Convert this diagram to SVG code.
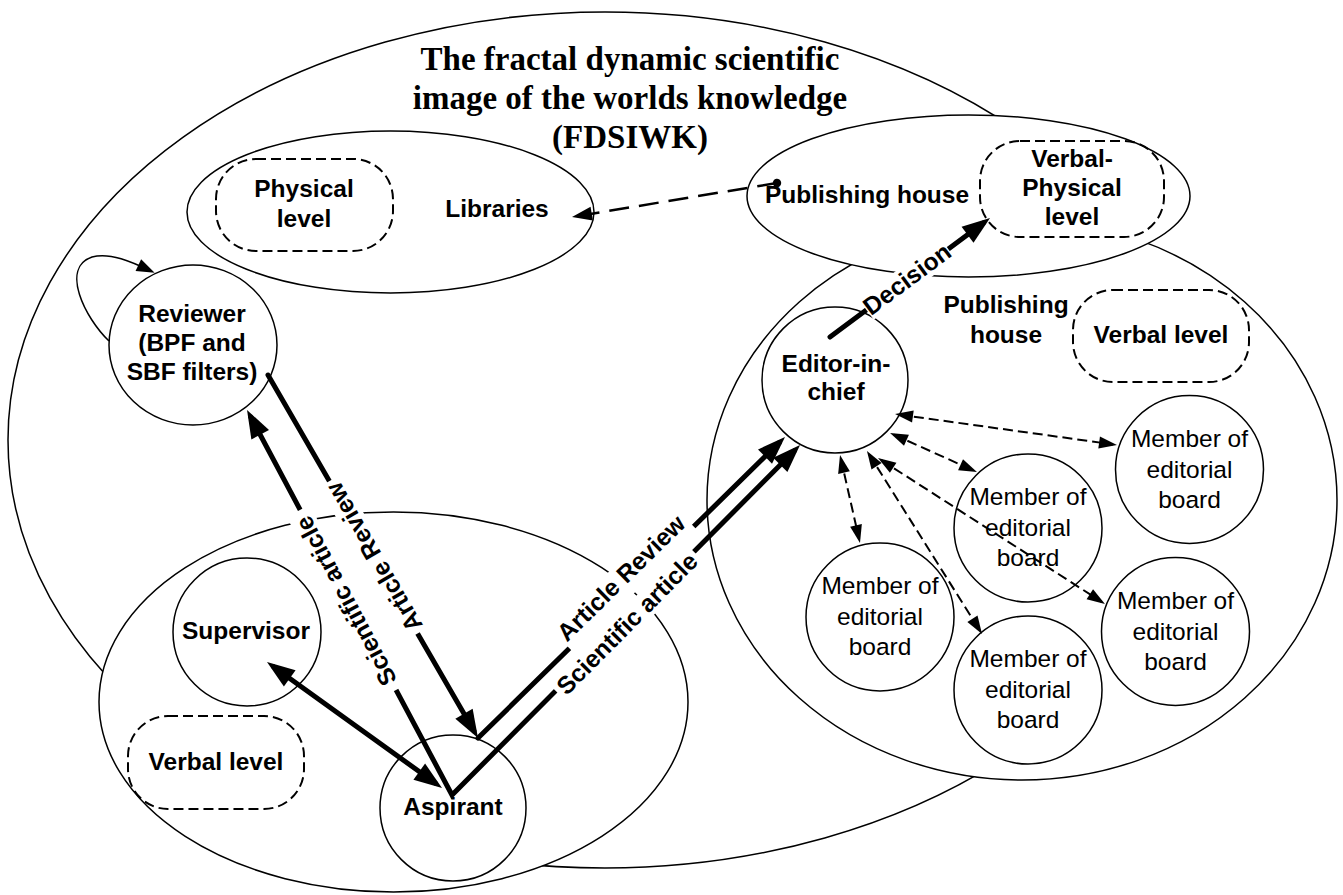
<svg xmlns="http://www.w3.org/2000/svg" width="1343" height="895" viewBox="0 0 1343 895">
<style>
.e{fill:#fff;stroke:#000;stroke-width:1.5}
.d{fill:none;stroke:#000;stroke-width:2;stroke-dasharray:10 5}
.b{font-family:"Liberation Sans",Arial,sans-serif;font-weight:bold;font-size:24.5px;text-anchor:middle;fill:#000}
.r{font-family:"Liberation Sans",Arial,sans-serif;font-size:24.5px;text-anchor:middle;fill:#000}
.t{font-family:"Liberation Serif","Times New Roman",serif;font-weight:bold;font-size:33px;text-anchor:middle;fill:#000}
.thick{fill:none;stroke:#000;stroke-width:5;stroke-linecap:round;stroke-linejoin:miter;stroke-miterlimit:10}
.dash{fill:none;stroke:#000;stroke-width:2;stroke-dasharray:10 5}
.ldash{fill:none;stroke:#000;stroke-width:2.5;stroke-dasharray:20 10}
.thin{fill:none;stroke:#000;stroke-width:1.5}
.bg{fill:#fff;stroke:none}
</style>
<defs>
<marker id="ab" markerUnits="userSpaceOnUse" markerWidth="28" markerHeight="20" refX="20" refY="10" orient="auto-start-reverse" overflow="visible"><path d="M0,0 L28,10 L0,20 z" fill="#000" stroke="none"/></marker>
<marker id="as" markerUnits="userSpaceOnUse" markerWidth="18" markerHeight="12" refX="14" refY="6" orient="auto-start-reverse" overflow="visible"><path d="M0,0 L18,6 L0,12 z" fill="#000" stroke="none"/></marker>
<marker id="am" markerUnits="userSpaceOnUse" markerWidth="20" markerHeight="14" refX="14" refY="7" orient="auto" overflow="visible"><path d="M0,0 L20,7 L0,14 z" fill="#000" stroke="none"/></marker>
<marker id="al" markerUnits="userSpaceOnUse" markerWidth="18" markerHeight="13" refX="14" refY="6.5" orient="auto" overflow="visible"><path d="M0,0 L18,6.5 L0,13 z" fill="#000" stroke="none"/></marker>
<marker id="dot" markerUnits="userSpaceOnUse" markerWidth="10" markerHeight="10" refX="5" refY="5" orient="auto" overflow="visible"><circle cx="5" cy="5" r="4.2" fill="#000"/></marker>
</defs>

<g id="fdsiwk">
<ellipse class="e" cx="605" cy="440" rx="597" ry="428"/>
<text class="t" x="630" y="70">The fractal dynamic scientific</text>
<text class="t" x="630" y="109">image of the worlds knowledge</text>
<text class="t" x="630" y="148">(FDSIWK)</text>
</g>

<g id="libraries">
<ellipse class="e" cx="390.5" cy="212" rx="203.5" ry="81"/>
<text class="b" x="497" y="217">Libraries</text>
</g>
<g id="physical-level">
<rect class="d" x="216" y="159" width="177" height="92" rx="40" ry="40"/>
<text class="b" x="304" y="197">Physical</text>
<text class="b" x="304" y="227">level</text>
</g>

<g id="scientist-group">
<ellipse class="e" cx="393.5" cy="702" rx="294.5" ry="190"/>
</g>
<g id="verbal-level-left">
<rect class="d" x="128" y="716" width="176" height="93" rx="40" ry="40"/>
<text class="b" x="216" y="770">Verbal level</text>
</g>

<g id="publishing-house-editorial">
<ellipse class="e" cx="1022" cy="500" rx="315" ry="280"/>
<text class="b" x="1006" y="313">Publishing</text>
<text class="b" x="1006" y="343">house</text>
</g>
<g id="verbal-level-right">
<rect class="d" x="1073" y="290" width="176" height="92" rx="40" ry="40"/>
<text class="b" x="1161" y="343">Verbal level</text>
</g>

<g id="publishing-house">
<ellipse class="e" cx="968.5" cy="196" rx="221.5" ry="81"/>
<text class="b" x="867" y="203">Publishing house</text>
</g>
<g id="verbal-physical-level">
<rect class="d" x="980" y="141" width="184" height="96" rx="40" ry="40"/>
<text class="b" x="1072" y="167">Verbal-</text>
<text class="b" x="1072" y="196">Physical</text>
<text class="b" x="1072" y="225">level</text>
</g>

<g id="reviewer">
<ellipse class="e" cx="193" cy="345" rx="84" ry="80"/>
<text class="b" x="192" y="322">Reviewer</text>
<text class="b" x="192" y="351">(BPF and</text>
<text class="b" x="192" y="380">SBF filters)</text>
</g>

<g id="supervisor">
<circle class="e" cx="247" cy="632" r="74"/>
<text class="b" x="246" y="639">Supervisor</text>
</g>

<g id="aspirant">
<circle class="e" cx="453" cy="808" r="73"/>
<text class="b" x="453" y="815">Aspirant</text>
</g>

<g id="editor-in-chief">
<circle class="e" cx="835" cy="380" r="73"/>
<text class="b" x="836" y="372">Editor-in-</text>
<text class="b" x="836" y="400">chief</text>
</g>

<g id="member-1">
<circle class="e" cx="880" cy="617" r="74"/>
<text class="r" x="880" y="594"><tspan x="880">Member of</tspan><tspan x="880" dy="30.5">editorial</tspan><tspan x="880" dy="30.5">board</tspan></text>
</g>
<g id="member-2">
<circle class="e" cx="1028" cy="528" r="74"/>
<text class="r" x="1028" y="505"><tspan x="1028">Member of</tspan><tspan x="1028" dy="30.5">editorial</tspan><tspan x="1028" dy="30.5">board</tspan></text>
</g>
<g id="member-3">
<circle class="e" cx="1028" cy="690" r="74"/>
<text class="r" x="1028" y="667"><tspan x="1028">Member of</tspan><tspan x="1028" dy="30.5">editorial</tspan><tspan x="1028" dy="30.5">board</tspan></text>
</g>
<g id="member-4">
<circle class="e" cx="1175.5" cy="631.5" r="74"/>
<text class="r" x="1175.5" y="609"><tspan x="1175.5">Member of</tspan><tspan x="1175.5" dy="30.5">editorial</tspan><tspan x="1175.5" dy="30.5">board</tspan></text>
</g>
<g id="member-5">
<circle class="e" cx="1189.5" cy="469.5" r="74"/>
<text class="r" x="1189.5" y="447"><tspan x="1189.5">Member of</tspan><tspan x="1189.5" dy="30.5">editorial</tspan><tspan x="1189.5" dy="30.5">board</tspan></text>
</g>

<g id="connectors">
<path class="thin" d="M109,341 C85,318 60,268 92,257 C110,252 132,262 151,271" marker-end="url(#al)"/>
<path class="ldash" d="M777,183 L577.9,216" marker-start="url(#dot)" marker-end="url(#am)"/>
<path class="thick" d="M250.8,417.1 L452,795 L794.4,450.7" marker-start="url(#ab)" marker-end="url(#ab)"/>
<path class="thick" d="M268,375 L474,731.1" marker-end="url(#ab)"/>
<path class="thick" d="M478,738 L779.3,442.6" marker-end="url(#ab)"/>
<path class="thick" d="M273.5,666.7 L435.5,783.3" marker-start="url(#ab)" marker-end="url(#ab)"/>
<path class="thick" d="M830,337 L983.6,222.8" marker-end="url(#ab)"/>
<path class="dash" d="M899,414.6 L1113,444.4" marker-start="url(#as)" marker-end="url(#as)"/>
<path class="dash" d="M893.7,434.6 L973.3,470.4" marker-start="url(#as)" marker-end="url(#as)"/>
<path class="dash" d="M881.4,460.2 L1101.6,601.8" marker-start="url(#as)" marker-end="url(#as)"/>
<path class="dash" d="M869.1,454.4 L979.9,630.6" marker-start="url(#as)" marker-end="url(#as)"/>
<path class="dash" d="M840.9,458.9 L859.1,539.1" marker-start="url(#as)" marker-end="url(#as)"/>
</g>

<g id="edge-labels">
<g transform="translate(346,601) rotate(-118)">
<rect class="bg" x="-102" y="-13" width="204" height="26"/>
<text class="b" x="0" y="8.5">Scientific article</text>
</g>
<g transform="translate(374,557) rotate(-120)">
<rect class="bg" x="-88" y="-13" width="176" height="26"/>
<text class="b" x="0" y="8.5">Article Review</text>
</g>
<g transform="translate(621,578) rotate(-44.4)">
<rect class="bg" x="-86" y="-13" width="174" height="33"/>
<text class="b" x="0" y="8.5">Article Review</text>
</g>
<g transform="translate(627,623.5) rotate(-45.2)">
<rect class="bg" x="-98" y="-13" width="196" height="26"/>
<text class="b" x="0" y="8.5">Scientific article</text>
</g>
<g transform="translate(907,279) rotate(-36.6)">
<rect class="bg" x="-51" y="-13" width="102" height="26"/>
<text class="b" x="0" y="8.5">Decision</text>
</g>
</g>
</svg>
